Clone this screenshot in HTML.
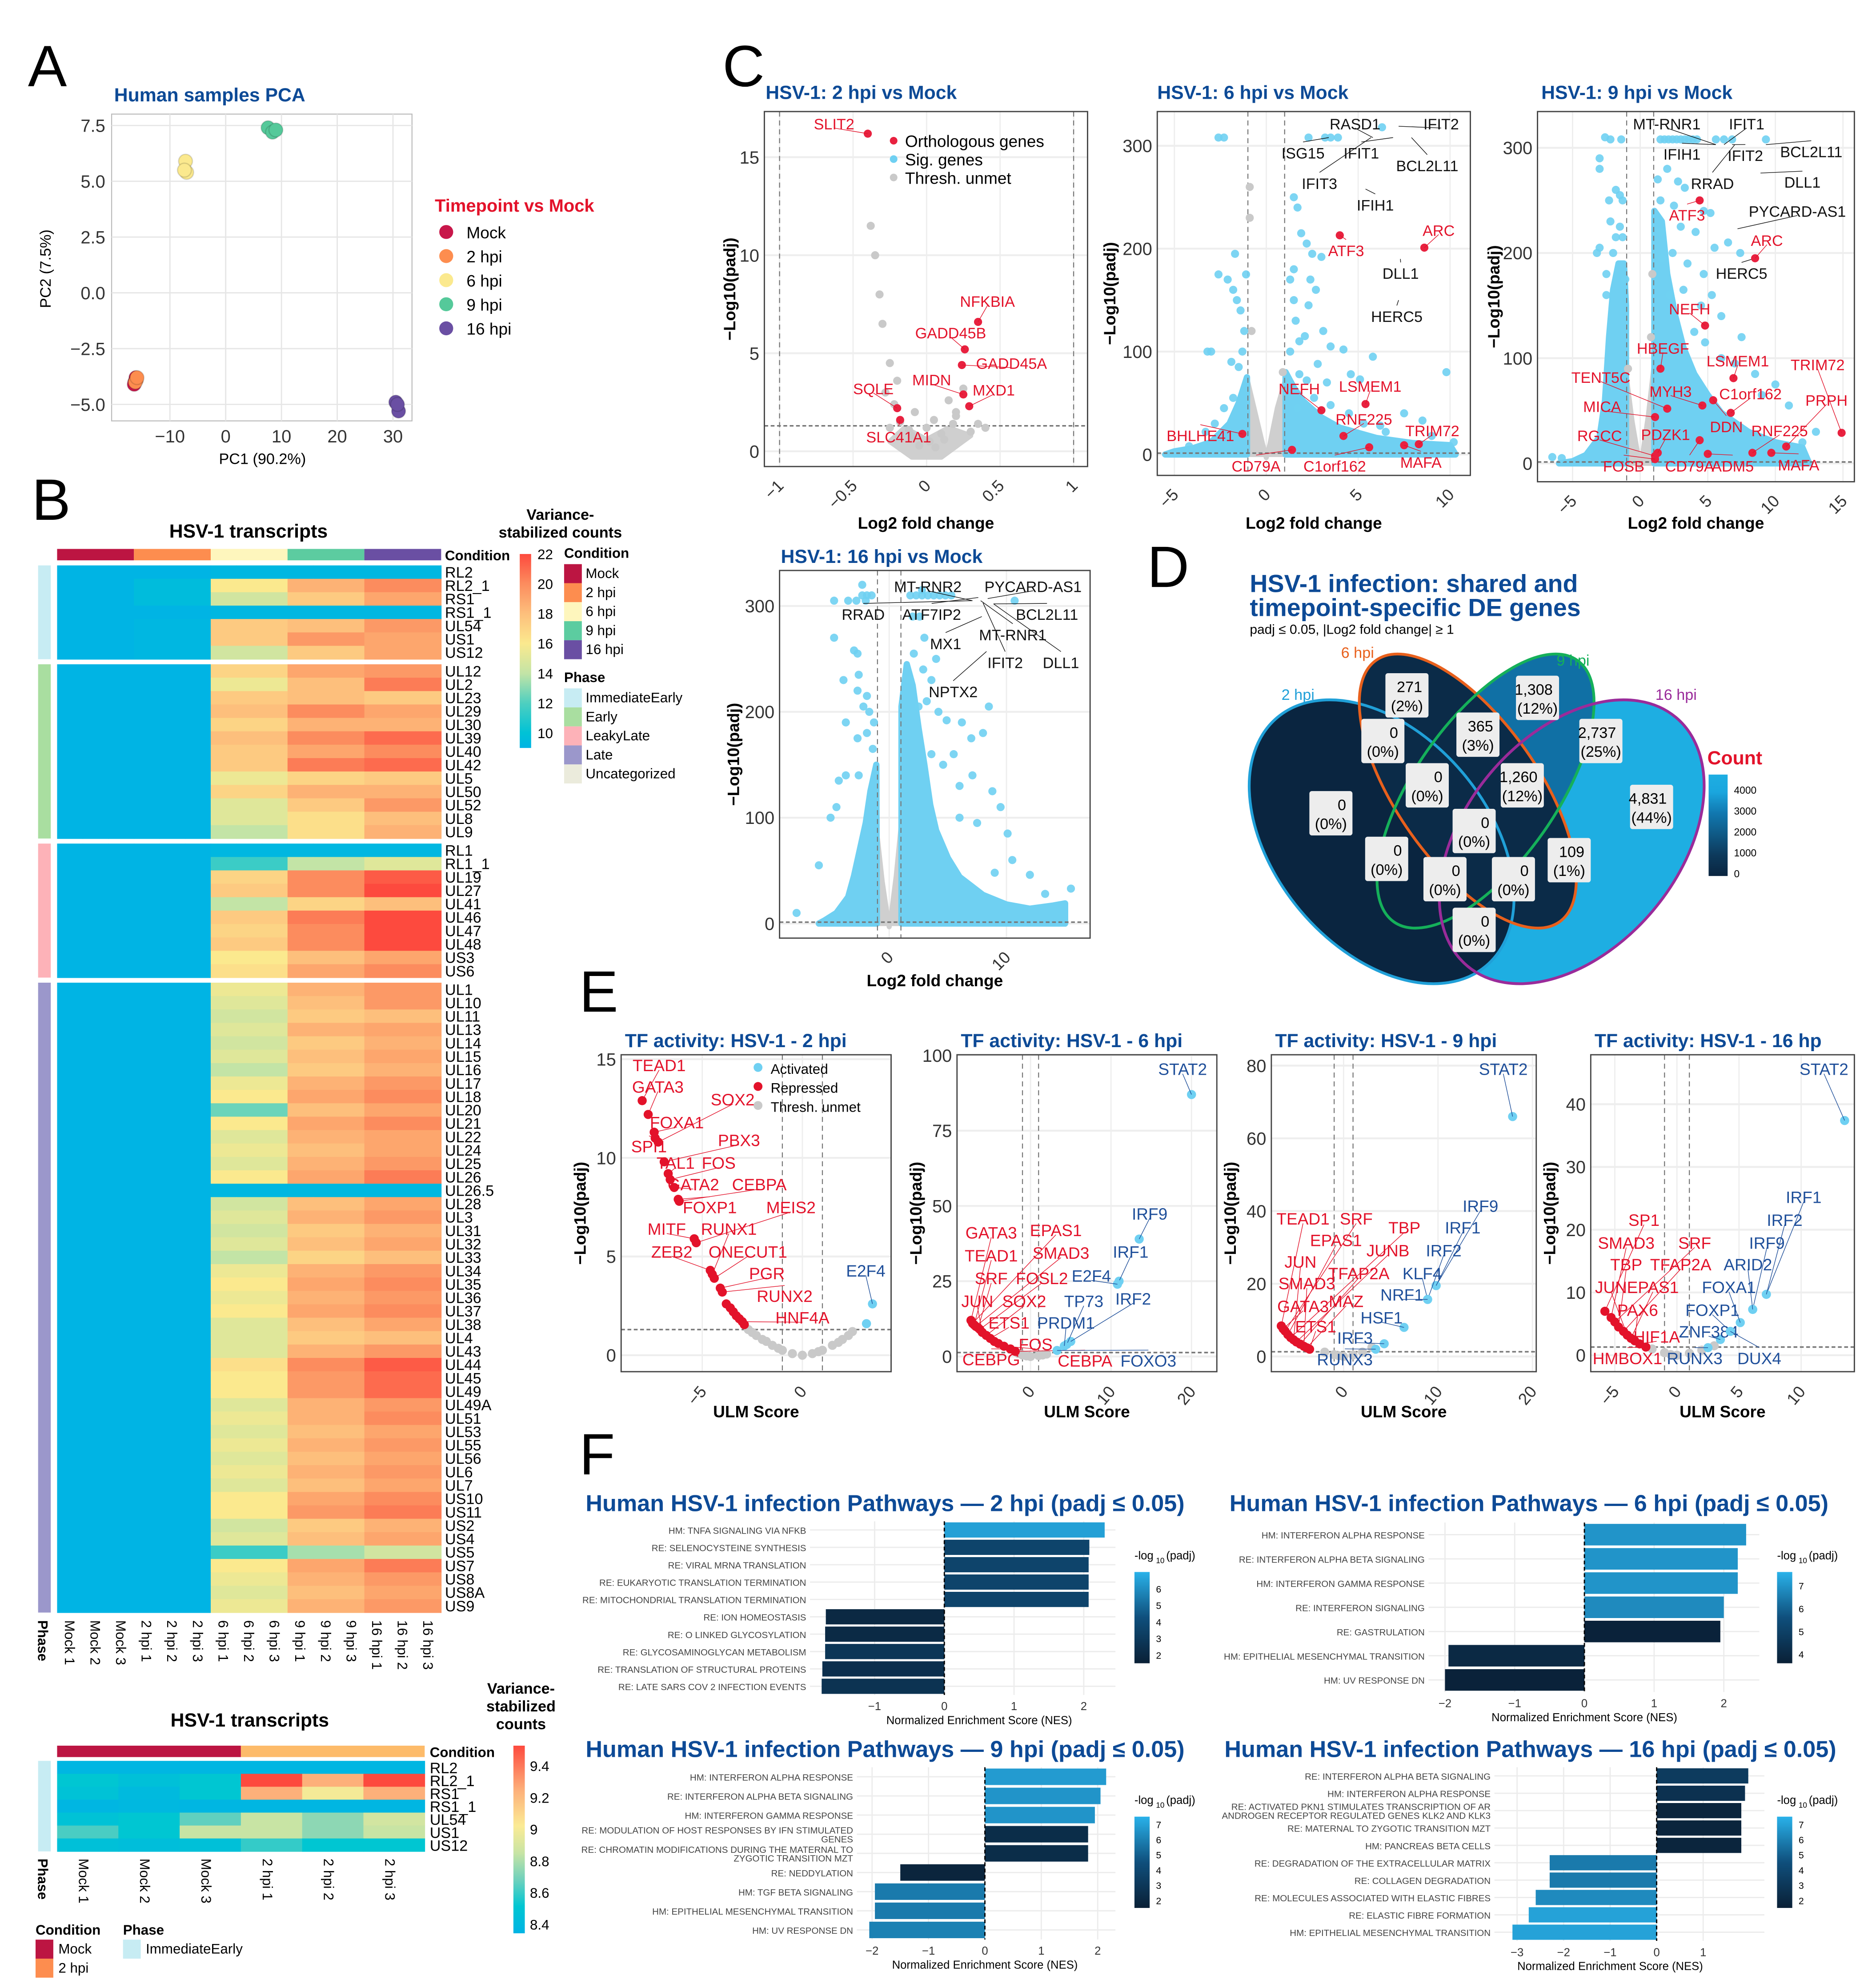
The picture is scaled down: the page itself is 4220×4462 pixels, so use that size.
<!DOCTYPE html>
<html><head><meta charset="utf-8"><style>
html,body{margin:0;padding:0;background:#fff}
svg{display:block;font-family:"Liberation Sans","DejaVu Sans",sans-serif}
</style></head><body>
<svg id="fig" xmlns="http://www.w3.org/2000/svg" width="4220" height="4462" viewBox="0 0 1480 1565"></svg>
<script>
// ---------- DATA ----------
const pcaGroups=['Mock','2 hpi','6 hpi','9 hpi','16 hpi'];
const pcaColors=['#c8174a','#fd8d4f','#fbe98e','#55c99a','#6a4fa3'];
const pcaPC1=[[-16.3,-16.1,-16.4],[-16.0,-16.2,-15.9],[-7.2,-7.0,-7.4],[7.6,8.4,9.0],[30.5,31.0,30.8]];
const pcaPC2=[[-4.0,-3.8,-4.1],[-3.9,-4.0,-3.8],[5.9,5.4,5.5],[7.4,7.2,7.3],[-4.9,-5.3,-5.0]];
const pcaXTicks=[-10,0,10,20,30];
const pcaYTicks=[7.5,5.0,2.5,0.0,-2.5,-5.0];
const hmCols=['Mock 1','Mock 2','Mock 3','2 hpi 1','2 hpi 2','2 hpi 3','6 hpi 1','6 hpi 2','6 hpi 3','9 hpi 1','9 hpi 2','9 hpi 3','16 hpi 1','16 hpi 2','16 hpi 3'];
const phaseNames=['ImmediateEarly','Early','LeakyLate','Late'];
const phaseRows=[
 ['RL2','RL2_1','RS1','RS1_1','UL54','US1','US12'],
 ['UL12','UL2','UL23','UL29','UL30','UL39','UL40','UL42','UL5','UL50','UL52','UL8','UL9'],
 ['RL1','RL1_1','UL19','UL27','UL41','UL46','UL47','UL48','US3','US6'],
 ['UL1','UL10','UL11','UL13','UL14','UL15','UL16','UL17','UL18','UL20','UL21','UL22','UL24','UL25','UL26','UL26.5','UL28','UL3','UL31','UL32','UL33','UL34','UL35','UL36','UL37','UL38','UL4','UL43','UL44','UL45','UL49','UL49A','UL51','UL53','UL55','UL56','UL6','UL7','US10','US11','US2','US4','US5','US7','US8','US8A','US9']];
const phaseVals=[
 [[9,9,9.2,9.2,9.2],[9,9.6,16,18.5,20],[9,9.6,14.5,17.5,19],[9,9,9.2,9.2,9.2],[9,9.2,17.5,18,19.5],[9,9.2,17.5,19.5,19],[9,9.2,14.5,17.5,19]],
 [[9,9,17,19,19.5],[9,9,15.5,18,20.5],[9,9,17.5,18,17.5],[9,9,18,20,19],[9,9,17,18.5,18.5],[9,9,18,20,21],[9,9,17.5,19,20],[9,9,17.5,20.5,21],[9,9,15.5,17,17.5],[9,9,17,18.5,18.5],[9,9,15,17.5,19.5],[9,9,15,16.5,18],[9,9,14,16.5,18.5]],
 [[9,9,9.2,9.2,9.2],[9,9,11.5,14,15],[9,9,17,20,21.5],[9,9,17.5,20,22],[9,9,14,17,18],[9,9,17.5,20.5,22.5],[9,9,17,20,22.5],[9,9,17.5,20,22],[9,9,16,18,19],[9,9,16.5,19,20]],
 [[9,9,15.5,18.5,19.5],[9,9,15,18,19.5],[9,9,14.5,17.5,18],[9,9,15,18.5,19],[9,9,14.5,17.5,18.5],[9,9,15,18,19],[9,9,14,17.5,18.5],[9,9,15.5,18.5,19.5],[9,9,16,19,20],[9,9,12.5,18,19],[9,9,16,19,20],[9,9,15,18.5,19],[9,9,15.5,18,19],[9,9,15,18.5,19.5],[9,9,16,19,20.5],[9,9,9.2,9.3,9.3],[9,9,14.5,18,19],[9,9,15,18.5,19.5],[9,9,14.5,17.5,18.5],[9,9,15,18,19],[9,9,14,17,18],[9,9,15.5,18.5,19.5],[9,9,16,19,20],[9,9,15.5,18.5,19.5],[9,9,16,19,20],[9,9,15,18,19],[9,9,15,17.5,18],[9,9,15,18.5,19.5],[9,9,16.5,20,21.5],[9,9,16,19.5,21],[9,9,16,19.5,21],[9,9,15,18.5,19.5],[9,9,15.5,18.5,20],[9,9,15,18,19],[9,9,15.5,18.5,19.5],[9,9,15,18,19],[9,9,15.5,18.5,19.5],[9,9,15,18,19],[9,9,16,19,20],[9,9,16,19.5,20.5],[9,9,14.5,17.5,18.5],[9,9,15,18,19],[9,9,11.5,13.5,14.5],[9,9,16,19,20.5],[9,9,15.5,18.5,19.5],[9,9,15,18,19],[9,9,15.5,18.5,19.5]]];
const hmTicks=[22,20,18,16,14,12,10];
const hm2Rows=['RL2','RL2_1','RS1','RS1_1','UL54','US1','US12'];
const hm2Cols=['Mock 1','Mock 2','Mock 3','2 hpi 1','2 hpi 2','2 hpi 3'];
const hm2Vals=[[8.42,8.42,8.42,8.42,8.42,8.42],[8.55,8.5,8.55,9.45,9.2,9.45],[8.52,8.45,8.55,9.2,8.98,9.2],[8.42,8.43,8.42,8.42,8.42,8.42],[8.52,8.55,8.68,8.85,8.75,8.88],[8.65,8.55,8.85,8.85,8.75,8.85],[8.5,8.48,8.5,8.62,8.55,8.55]];
const hm2Ticks=[9.4,9.2,9.0,8.8,8.6,8.4];

// Panel C volcano: 2 hpi
const v2Gray=[[-0.05,0.3],[0.02,0.5],[0.06,0.2],[-0.1,0.8],[0.1,0.9],[-0.12,1.1],[0.12,0.6],[-0.18,1.5],[0.18,1.4],[-0.22,2.4],[0.2,2.0],[-0.28,3.0],[0.25,3.2],[-0.3,6.5],[-0.25,4.5],[-0.35,10.0],[-0.38,11.5],[-0.2,3.6],[0,1.2],[0.05,1.6],[-0.08,2.0],[0.15,2.6],[0.3,1.0],[0.35,1.4],[-0.25,1.2],[-0.32,8],[0.2,1.8],[0.4,1.2]];
const v2EnvGray=[[[-0.25,0.5],[-0.15,1.2],[0,0.6],[0.15,1.2],[0.3,0.8],[0.1,-0.3],[-0.1,-0.3]]];
const v2EnvBlue=[];
const v2Blue=[];
const v2Red=[[-0.4,16.2,'SLIT2'],[0.35,6.6,'NFKBIA'],[0.26,5.2,'GADD45B'],[0.24,4.4,'GADD45A'],[0.25,2.9,'MIDN'],[0.29,2.3,'MXD1'],[-0.2,2.2,'SQLE'],[-0.18,1.6,'SLC41A1']];
const v2Black=[];
const v2XTicks=[-1.0,-0.5,0.0,0.5,1.0];
const v2YTicks=[0,5,10,15];
// 6 hpi
const v6EnvBlue=[[[-5.5,0],[-5,3],[-4,6],[-3,12],[-2,30],[-1.5,50],[-1.05,75],[-1.05,0]],[[1.05,0],[1.05,80],[1.5,65],[2,52],[3,36],[4,26],[6,16],[8,11],[10,9],[10.3,0]]];
const v6EnvGray=[[[-1,0],[-1,70],[-0.6,40],[-0.2,10],[0,-3],[0.2,10],[0.6,45],[1,70],[1,0]]];
const v6Gray=[[-0.9,260],[-0.9,230],[-0.8,120],[0.9,80]];
const v6Blue=[[-2.3,308],[-2.6,308],[-1.7,195],[-2.6,175],[-2.1,170],[-1.8,160],[-1.6,150],[-1.4,140],[-1.2,120],[-1.3,100],[-3,100],[-3.2,100],[-1.9,90],[-1.5,85],[-1.1,175],[2.3,308],[3.2,308],[3.5,308],[3.9,308],[6.3,318],[1.5,250],[1.7,240],[1.9,215],[2.2,205],[2.5,195],[3.0,192],[1.5,180],[2.4,170],[2.7,160],[1.3,170],[1.5,150],[2.3,145],[3.1,120],[3.5,105],[4.2,102],[5.8,95],[1.3,100],[1.8,110],[2.1,115],[1.6,130],[2.8,88],[3.3,70],[4.6,78],[5.1,73],[2.2,72],[1.8,78],[9.8,80],[7.5,40],[8.5,33],[6.2,28],[9,18],[10.2,12],[1.7,45],[2.6,55],[3.5,48],[4.5,40],[5.3,30],[6.5,22],[-3.3,22],[-4.2,8],[-2.8,30],[-2.3,45],[-1.8,55]];
const v6Red=[[8.6,201,'ARC'],[4.0,213,'ATF3'],[3.0,43,'NEFH'],[5.4,49,'LSMEM1'],[4.2,18,'RNF225'],[8.3,10,'TRIM72'],[-1.3,20,'BHLHE41'],[1.4,4.5,'CD79A'],[5.6,7,'C1orf162'],[7.5,9,'MAFA']];
const v6Black=[[5.8,308,'RASD1'],[7.2,319,'IFIT2'],[3.4,308,'ISG15'],[6.9,308,'IFIT1'],[7.9,308,'BCL2L11'],[5.7,308,'IFIT3'],[5.4,258,'IFIH1'],[7.3,190,'DLL1'],[7.2,150,'HERC5']];
const v6XTicks=[-5,0,5,10];
const v6YTicks=[0,100,200,300];
// 9 hpi
const v9EnvBlue=[[[-6,0],[-5,2],[-4,8],[-3,25],[-2.6,60],[-2.3,120],[-2,165],[-1.6,190],[-1.2,190],[-1.05,150],[-1.05,0]],[[1.05,0],[1.05,240],[1.6,230],[2,180],[2.6,140],[3.2,110],[4,85],[5,65],[6,48],[8,30],[10,20],[12,15],[12.5,0]]];
const v9EnvGray=[[[-1,0],[-1,80],[-0.6,40],[-0.2,10],[0,-3],[0.2,10],[0.6,45],[1,90],[1,0]]];
const v9Gray=[[0.9,180],[0.8,120],[-0.9,90]];
const v9Blue=[[-6.5,6],[-5.8,5],[-2.6,310],[-2.2,308],[-1.4,308],[-3,290],[-3,280],[-2.3,250],[-1.8,260],[-1.5,255],[-1.3,250],[-2.2,230],[-3.2,200],[-3.0,205],[-1.8,215],[-1.5,225],[-2.5,180],[-2.0,200],[-1.3,215],[-1.1,175],[-2.5,160],[1.5,308],[1.8,308],[2.1,308],[2.4,308],[2.7,308],[3,308],[3.3,308],[3.6,308],[3.9,308],[4.2,308],[5.6,308],[6.2,308],[6.8,308],[9.3,308],[1.3,270],[2,280],[2.8,268],[3.3,262],[1.5,250],[2.5,245],[4.7,240],[5.2,238],[1.5,220],[3,225],[4.1,220],[5.5,205],[6.5,210],[7.4,200],[1.6,195],[2.4,200],[3.5,190],[4.7,180],[2.2,160],[3.2,165],[4.5,150],[5.3,160],[6,140],[7.5,120],[4,125],[4.8,115],[6,100],[7,95],[8.5,85],[10,75],[11,55],[13,30],[12,20],[9,65]];
const v9Red=[[4.4,250,'ATF3'],[8.5,195,'ARC'],[4.8,131,'NEFH'],[1.5,90,'HBEGF'],[6.9,81,'LSMEM1'],[14.9,29,'TRIM72'],[2,52,'TENT5C'],[4.6,55,'MYH3'],[6.7,48,'C1orf162'],[10.8,16,'PRPH'],[1.1,44,'MICA'],[5.4,60,'DDN'],[8.3,10,'RNF225'],[1.1,7,'RGCC'],[1.3,10,'PDZK1'],[1.1,4,'FOSB'],[4.4,22,'CD79A'],[5,9,'ADM5'],[9.7,10,'MAFA']];
const v9Black=[[5.6,303,'MT-RNR1'],[6.2,303,'IFIT1'],[5.6,303,'IFIH1'],[6.8,303,'IFIT2'],[9.3,303,'BCL2L11'],[8.9,276,'DLL1'],[7,303,'RRAD'],[7.2,223,'PYCARD-AS1'],[8.5,195,'HERC5']];
const v9XTicks=[-5,0,5,10,15];
const v9YTicks=[0,100,200,300];
// 16 hpi
const v16EnvBlue=[[[-6,0],[-5.5,3],[-4.5,10],[-3.5,25],[-3,45],[-2.5,70],[-2,95],[-1.6,125],[-1.1,150],[-1.05,0]],[[1.05,0],[1.05,205],[1.5,245],[2,225],[2.5,185],[3,150],[3.5,112],[4,88],[5,62],[6,44],[8,27],[10,18],[12,14],[14,17],[15,19],[15,0]]];
const v16EnvGray=[[[-1,0],[-1,80],[-0.6,40],[-0.2,10],[0,-3],[0.2,10],[0.6,45],[1,90],[1,0]]];
const v16Gray=[];
const v16Blue=[[-2.3,310],[-2.8,305],[-3.5,305],[-4.7,305],[-2,305],[-1.9,310],[-1.5,310],[-2.3,320],[-4.7,270],[-2.7,255],[-3,258],[-2.6,235],[-3.9,230],[-2.7,220],[-1.9,215],[-2.2,205],[-1.7,200],[-3.7,190],[-1.3,190],[-2.7,175],[-1.9,180],[-1.4,165],[-4.3,135],[-3.7,140],[-2.6,140],[-5,100],[-4.5,110],[-6,55],[-7.9,10],[1.8,310],[2.3,310],[2.8,310],[3.3,310],[3.8,310],[4.3,310],[4.8,310],[5.3,310],[2.8,315],[10.7,305],[2,290],[2.6,290],[3,270],[2.1,255],[2.9,240],[4,250],[3.6,230],[1.8,230],[2.5,205],[3.2,210],[4.2,200],[4.9,192],[6.2,190],[8.5,205],[8,180],[7,175],[5.5,160],[4.6,150],[3.6,160],[6,130],[7.1,140],[8.8,125],[9.5,110],[6,100],[7.5,95],[10.1,85],[10.5,60],[12,46],[15.5,33],[13.3,28],[9,48]];
const v16Red=[];
const v16Black=[[7.1,305,'RRAD'],[7.1,305,'MT-RNR2'],[7.6,308,'ATF7IP2'],[8.4,307,'PYCARD-AS1'],[8.9,302,'BCL2L11'],[7.8,305,'MT-RNR1'],[7.9,290,'MX1'],[8.0,303,'IFIT2'],[8.9,302,'DLL1'],[8.3,257,'NPTX2']];
const v16XTicks=[0,10];
const v16YTicks=[0,100,200,300];
// Venn
const vennSets=['2 hpi','6 hpi','9 hpi','16 hpi'];
const vennCounts=['271','1,308','365','2,737','0','0','1,260','4,831','0','0','0','109','0','0','0'];
const vennPct=['2%','12%','3%','25%','0%','0%','12%','44%','0%','0%','0%','1%','0%','0%','0%'];
const vennTicks=[4000,3000,2000,1000,0];
// Panel E
const e2Gray=[[-2.7,1.3],[-2.3,1.0],[-2,0.8],[-1.5,0.5],[-1,0.25],[-0.5,0.08],[0,0],[0.5,0.08],[1,0.25],[1.5,0.5],[2,0.8],[2.5,1.2],[-2.5,1.15],[-1.2,0.35],[0.8,0.18],[1.8,0.65],[-1.8,0.7],[2.3,1.0]];
const e2Red=[[-8,12.9,'TEAD1'],[-7.7,12.2,'GATA3'],[-7.4,11.3,'FOXA1'],[-7.35,11.0,'SPI1'],[-7.2,10.8,'SOX2'],[-6.9,9.8,'PBX3'],[-6.7,9.2,'TAL1'],[-6.6,8.9,'FOS'],[-6.4,8.5,'GATA2'],[-6.2,7.9,'FOXP1'],[-6.15,7.8,'CEBPA'],[-5.4,5.9,'MITF'],[-5.3,5.7,'MEIS2'],[-4.6,4.3,'ZEB2'],[-4.5,4.1,'RUNX1'],[-4.4,3.9,'ONECUT1'],[-4.1,3.4,'PGR'],[-4.0,3.2,'RUNX2'],[-3.0,1.7,'HNF4A'],[-3.8,2.6,''],[-3.6,2.4,''],[-3.45,2.2,''],[-3.3,2.0,''],[-3.15,1.85,''],[-2.9,1.55,'']];
const e2Blue=[[3.5,2.6,'E2F4'],[3.2,1.6,'']];
const e6Gray=[[-1.5,1],[-1,0.5],[0,0],[1,0.3],[2,0.8],[-0.5,0.2],[1.5,0.5]];
const e6Red=[[-7.4,12,'GATA3'],[-7.2,11,'EPAS1'],[-7,10.5,'TEAD1'],[-6.8,10,'SMAD3'],[-6.5,9.5,'SRF'],[-6.3,9,'FOSL2'],[-6,8,'JUN'],[-5.5,7,'SOX2'],[-5,6,'ETS1'],[-3.3,3.4,'FOS'],[-2.5,2.5,'CEBPG'],[-1.9,1.7,'CEBPA'],[-4.5,5,''],[-4,4.3,'']];
const e6Blue=[[20,87,'STAT2'],[13.5,39,'IRF9'],[11,25,'IRF1'],[10.8,24,'E2F4'],[5,5,'IRF2'],[4.5,4,'TP73'],[4.2,3.5,'PRDM1'],[3.3,2,'FOXO3']];
const e9Gray=[[-2,1.2],[-1,0.5],[0,0],[1,0.4],[2,1.2],[3,2.5],[-0.5,0.2]];
const e9Red=[[-6.6,8.4,'TEAD1'],[-6.2,7,'SRF'],[-5.9,6,'EPAS1'],[-5.6,5.2,'TBP'],[-5.3,4.6,'JUN'],[-5,4,'JUNB'],[-4.6,3.4,'TFAP2A'],[-4.2,2.8,'SMAD3'],[-3.9,2.4,'MAZ'],[-6.4,7.6,'GATA3'],[-3.6,2,'ETS1']];
const e9Blue=[[17.9,66,'STAT2'],[9.8,19.5,'IRF9'],[9.8,19.5,'IRF1'],[8.9,15.7,'IRF2'],[8.9,15.7,'KLF4'],[8.9,15.7,'NRF1'],[6.4,8,'HSF1'],[4.3,3.5,'IRF3'],[3.4,2,'RUNX3']];
const e16Gray=[[-2,1],[-1,0.4],[0,0],[1,0.3],[2,0.8],[3,1.5],[-0.5,0.1]];
const e16Red=[[-5.8,7,'SP1'],[-5.3,6,'SMAD3'],[-5,5.3,'SRF'],[-4.7,4.5,'TBP'],[-4.3,3.8,'TFAP2A'],[-4,3.2,'JUN'],[-3.7,2.7,'EPAS1'],[-3.4,2.3,'PAX6'],[-3,1.8,'HIF1A'],[-2.5,1.3,'HMBOX1']];
const e16Blue=[[13.5,37.4,'STAT2'],[7.2,9.7,'IRF1'],[7.2,9.7,'IRF2'],[6.1,7.3,'IRF9'],[6.1,7.3,'ARID2'],[5.1,5.2,'FOXA1'],[4.3,3.8,'FOXP1'],[3.5,2.5,'ZNF384'],[2.5,1.2,'RUNX3'],[4.3,3.8,'DUX4']];
// Panel F
const f2Labels=['HM: TNFA SIGNALING VIA NFKB','RE: SELENOCYSTEINE SYNTHESIS','RE: VIRAL MRNA TRANSLATION','RE: EUKARYOTIC TRANSLATION TERMINATION','RE: MITOCHONDRIAL TRANSLATION TERMINATION','RE: ION HOMEOSTASIS','RE: O LINKED GLYCOSYLATION','RE: GLYCOSAMINOGLYCAN METABOLISM','RE: TRANSLATION OF STRUCTURAL PROTEINS','RE: LATE SARS COV 2 INFECTION EVENTS'];
const f2NES=[2.3,2.08,2.07,2.07,2.07,-1.7,-1.71,-1.71,-1.75,-1.76];
const f2LP=[6.5,3.6,3.6,3.6,3.6,2.0,2.1,2.8,2.4,2.6];
const f6Labels=['HM: INTERFERON ALPHA RESPONSE','RE: INTERFERON ALPHA BETA SIGNALING','HM: INTERFERON GAMMA RESPONSE','RE: INTERFERON SIGNALING','RE: GASTRULATION','HM: EPITHELIAL MESENCHYMAL TRANSITION','HM: UV RESPONSE DN'];
const f6NES=[2.32,2.2,2.2,2.0,1.95,-1.95,-2.0];
const f6LP=[7.0,7.0,7.0,6.8,3.7,4.0,3.7];
const f9Labels=['HM: INTERFERON ALPHA RESPONSE','RE: INTERFERON ALPHA BETA SIGNALING','HM: INTERFERON GAMMA RESPONSE','RE: MODULATION OF HOST RESPONSES BY IFN STIMULATED|GENES','RE: CHROMATIN MODIFICATIONS DURING THE MATERNAL TO|ZYGOTIC TRANSITION MZT','RE: NEDDYLATION','HM: TGF BETA SIGNALING','HM: EPITHELIAL MESENCHYMAL TRANSITION','HM: UV RESPONSE DN'];
const f9NES=[2.15,2.05,1.95,1.83,1.83,-1.5,-1.95,-1.95,-2.05];
const f9LP=[6.8,6.6,6.6,2.3,2.3,1.8,5.8,5.8,6.0];
const f16Labels=['RE: INTERFERON ALPHA BETA SIGNALING','HM: INTERFERON ALPHA RESPONSE','RE: ACTIVATED PKN1 STIMULATES TRANSCRIPTION OF AR|ANDROGEN RECEPTOR REGULATED GENES KLK2 AND KLK3','RE: MATERNAL TO ZYGOTIC TRANSITION MZT','HM: PANCREAS BETA CELLS','RE: DEGRADATION OF THE EXTRACELLULAR MATRIX','RE: COLLAGEN DEGRADATION','RE: MOLECULES ASSOCIATED WITH ELASTIC FIBRES','RE: ELASTIC FIBRE FORMATION','HM: EPITHELIAL MESENCHYMAL TRANSITION'];
const f16NES=[1.97,1.9,1.82,1.82,1.82,-2.3,-2.3,-2.6,-2.75,-3.1];
const f16LP=[3.2,2.6,1.8,1.8,1.8,5.8,5.8,6.3,7.0,7.0];

// ---------- HELPERS ----------
const NS='http://www.w3.org/2000/svg';
const svg=document.getElementById('fig');
function mk(tag,attrs,name,parent){
 const e=document.createElementNS(NS,tag);
 for(const k in attrs) e.setAttribute(k,attrs[k]);
 
 
 (parent||svg).appendChild(e);
 return e;
}
function T(x,y,s,o,name,parent){
 o=o||{};
 const a={x:x,y:y,'font-size':o.size||12,fill:o.fill||'#000'};
 if(o.weight)a['font-weight']=o.weight;
 if(o.anchor)a['text-anchor']=o.anchor;
 if(o.rot!==undefined)a.transform='rotate('+o.rot+' '+x+' '+y+')';
 const e=mk('text',a,name,parent);
 e.textContent=s;
 return e;
}
function lin(d0,d1,p0,p1){return v=>p0+(v-d0)*(p1-p0)/(d1-d0);}
function hex(h){return [1,3,5].map(i=>parseInt(h.substr(i,2),16));}
function lerpColor(stops,v){
 if(v<=stops[0][0])return stops[0][1];
 for(let i=1;i<stops.length;i++){
  if(v<=stops[i][0]){
   const t=(v-stops[i-1][0])/(stops[i][0]-stops[i-1][0]);
   const a=hex(stops[i-1][1]),b=hex(stops[i][1]);
   return 'rgb('+a.map((c,j)=>Math.round(c+(b[j]-c)*t)).join(',')+')';
  }
 }
 return stops[stops.length-1][1];
}
const BLUE='#0d4a96', RED='#e3122a', CY='#6fd0f2';

[['A',22,68],['B',25,410],['C',570,68],['D',905,463],['E',457,798],['F',457,1163]].forEach(p=>{
 T(p[1],p[2],p[0],{size:46},'panel-label-'+p[0].toLowerCase());
});

// ---------- PANEL A ----------
(function(){
 const g=mk('g',{},'pca-chart');
 const x=lin(0,10,178,222), y=lin(0,2.5,231,187);
 mk('rect',{x:88,y:90,width:237,height:242,fill:'#fff',stroke:'#bbb','stroke-width':0.8},'pca-plot-area',g);
 pcaXTicks.forEach(t=>{mk('line',{x1:x(t),x2:x(t),y1:90,y2:332,stroke:'#e6e6e6'},'pca-grid-x',g);
  T(x(t),349,String(t).replace('-','−'),{size:14,anchor:'middle',fill:'#333'},'pca-x-tick',g);});
 pcaYTicks.forEach(t=>{mk('line',{x1:88,x2:325,y1:y(t),y2:y(t),stroke:'#e6e6e6'},'pca-grid-y',g);
  T(83,y(t)+5,t.toFixed(1).replace('-','−'),{size:14,anchor:'end',fill:'#333'},'pca-y-tick',g);});
 pcaGroups.forEach((gname,i)=>{
  pcaPC1[i].forEach((v,j)=>mk('circle',{cx:x(v),cy:y(pcaPC2[i][j]),r:5.5,fill:pcaColors[i],stroke:'#0002'},'pca-point-'+gname.replace(' ','-'),g));
  mk('circle',{cx:352,cy:183+i*19,r:5.5,fill:pcaColors[i]},'pca-legend-key',g);
  T(368,188+i*19,gname,{size:13},'pca-legend-label',g);
 });
 T(90,80,'Human samples PCA',{size:15,weight:'bold',fill:BLUE},'pca-title',g);
 T(343,167,'Timepoint vs Mock',{size:14,weight:'bold',fill:RED},'pca-legend-title',g);
 T(207,366,'PC1 (90.2%)',{size:12,anchor:'middle'},'pca-x-title',g);
 T(40,212,'PC2 (7.5%)',{size:12,anchor:'middle',rot:-90},'pca-y-title',g);
})();

// ---------- PANEL B ----------
const hmStops=[[9,'#00b4e4'],[10,'#00c2d6'],[12,'#4ecfc0'],[14,'#c3e4a6'],[16,'#fbe98e'],[18,'#fdbf7c'],[20,'#fc8c5e'],[22,'#fd4a3e']];
const condCols=['#bc1542','#fd8d4f','#fef6bd','#5ccca0','#6a4fa3'];
const phaseCols=['#c7ecf3','#a9dea0','#fdb2b8','#9b97cb'];
(function(){
 const g=mk('g',{},'heatmap-main');
 const x0=45,x1=348,cw=(x1-x0)/hmCols.length;
 const nRows=phaseRows.reduce((a,r)=>a+r.length,0);
 const gap=4, top=446, bottom=1272;
 const rh=(bottom-top-gap*3)/nRows;
 T(196,424,'HSV-1 transcripts',{size:15,weight:'bold',anchor:'middle'},'heatmap-title',g);
 for(let c=0;c<5;c++) mk('rect',{x:x0+c*cw*3,y:433,width:cw*3,height:9,fill:condCols[c]},'condition-bar',g);
 T(351,442,'Condition',{size:11,weight:'bold'},'condition-bar-label',g);
 let yy=top;
 phaseRows.forEach((rows,p)=>{
  mk('rect',{x:30,y:yy,width:10,height:rows.length*rh,fill:phaseCols[p]},'phase-bar-'+phaseNames[p],g);
  rows.forEach((rn,r)=>{
   for(let c=0;c<hmCols.length;c++){
    const v=phaseVals[p][r][Math.floor(c/3)];
    mk('rect',{x:x0+c*cw,y:yy+r*rh,width:cw+0.3,height:rh+0.3,fill:lerpColor(hmStops,v)},'heatmap-cell',g);
   }
   T(351,yy+r*rh+rh-1,rn,{size:12},'row-label',g);
  });
  yy+=rows.length*rh+gap;
 });
 hmCols.forEach((cn,c)=>T(x0+c*cw+cw/2-4,1278,cn,{size:11,rot:90},'column-label',g));
 T(30,1278,'Phase',{size:11,weight:'bold',rot:90},'phase-axis-label',g);
 T(442,410,'Variance-',{size:12,weight:'bold',anchor:'middle'},'legend-title',g);
 T(442,424,'stabilized counts',{size:12,weight:'bold',anchor:'middle'},'legend-title',g);
 const cb=mk('defs',{},'defs',g);
 const lg=mk('linearGradient',{id:'hmg',x1:0,y1:1,x2:0,y2:0},'gradient',cb);
 hmStops.forEach(s=>mk('stop',{offset:((s[0]-9)/13),'stop-color':s[1]},'grad-stop',lg));
 mk('rect',{x:410,y:437,width:9,height:153,fill:'url(#hmg)'},'colorbar',g);
 const cy=lin(9,22,590,437);
 hmTicks.forEach(t=>T(424,cy(t)+4,String(t),{size:11},'colorbar-tick',g));
 T(445,440,'Condition',{size:11,weight:'bold'},'condition-legend-title',g);
 pcaGroups.forEach((n,i)=>{mk('rect',{x:445,y:445+i*15,width:14,height:15,fill:condCols[i]},'condition-legend-key',g);
  T(462,456+i*15,n,{size:11},'condition-legend-label',g);});
 T(445,538,'Phase',{size:11,weight:'bold'},'phase-legend-title',g);
 phaseNames.concat(['Uncategorized']).forEach((n,i)=>{mk('rect',{x:445,y:543+i*15,width:14,height:15,fill:phaseCols[i]||'#ebebdc'},'phase-legend-key',g);
  T(462,554+i*15,n,{size:11},'phase-legend-label',g);});
})();
(function(){
 const g=mk('g',{},'heatmap-2hpi');
 const x0=45,x1=335,cw=(x1-x0)/hm2Cols.length,top=1389,rh=10.2;
 const st=[[8.4,'#00b4e4'],[8.55,'#00c6d2'],[8.7,'#6fd1bc'],[8.85,'#c8e4a4'],[9.0,'#fbeb95'],[9.2,'#fdb07a'],[9.45,'#fd4a3e']];
 T(197,1362,'HSV-1 transcripts',{size:15,weight:'bold',anchor:'middle'},'heatmap2-title',g);
 mk('rect',{x:x0,y:1377,width:cw*3,height:9,fill:condCols[0]},'condition-bar',g);
 mk('rect',{x:x0+cw*3,y:1377,width:cw*3,height:9,fill:'#fdbb6a'},'condition-bar',g);
 T(339,1386,'Condition',{size:11,weight:'bold'},'condition-bar-label',g);
 mk('rect',{x:30,y:top,width:10,height:rh*7,fill:phaseCols[0]},'phase-bar',g);
 hm2Rows.forEach((rn,r)=>{hm2Cols.forEach((cn,c)=>mk('rect',{x:x0+c*cw,y:top+r*rh,width:cw+0.3,height:rh+0.3,fill:lerpColor(st,hm2Vals[r][c])},'heatmap2-cell',g));
  T(339,top+r*rh+rh-0.5,rn,{size:12},'row-label',g);});
 hm2Cols.forEach((cn,c)=>T(x0+c*cw+cw/2-7,1466,cn,{size:11,rot:90},'column-label',g));
 T(30,1466,'Phase',{size:11,weight:'bold',rot:90},'phase-axis-label',g);
 T(411,1336,'Variance-',{size:12,weight:'bold',anchor:'middle'},'legend-title',g);
 T(411,1350,'stabilized',{size:12,weight:'bold',anchor:'middle'},'legend-title',g);
 T(411,1364,'counts',{size:12,weight:'bold',anchor:'middle'},'legend-title',g);
 const d=mk('defs',{},'defs',g);
 const lg=mk('linearGradient',{id:'hmg2',x1:0,y1:1,x2:0,y2:0},'gradient',d);
 st.forEach(s=>mk('stop',{offset:(s[0]-8.4)/1.05,'stop-color':s[1]},'grad-stop',lg));
 mk('rect',{x:405,y:1377,width:9,height:148,fill:'url(#hmg2)'},'colorbar',g);
 const cy=lin(8.4,9.4,1518,1393);
 hm2Ticks.forEach(t=>T(418,cy(t)+4,t===9?'9':t.toFixed(1),{size:11},'colorbar-tick',g));
 T(28,1526,'Condition',{size:11,weight:'bold'},'condition-legend-title',g);
 mk('rect',{x:28,y:1530,width:14,height:15,fill:condCols[0]},'legend-key',g);T(46,1541,'Mock',{size:11},'legend-label',g);
 mk('rect',{x:28,y:1545,width:14,height:15,fill:condCols[1]},'legend-key',g);T(46,1556,'2 hpi',{size:11},'legend-label',g);
 T(97,1526,'Phase',{size:11,weight:'bold'},'phase-legend-title',g);
 mk('rect',{x:97,y:1530,width:14,height:15,fill:phaseCols[0]},'legend-key',g);T(115,1541,'ImmediateEarly',{size:11},'legend-label',g);
})();

// ---------- VOLCANO ----------
function volcano(cfg){
 const g=mk('g',{},cfg.name);
 const x=lin(cfg.xd[0],cfg.xd[1],cfg.xp[0],cfg.xp[1]), y=lin(cfg.yd[0],cfg.yd[1],cfg.yp[0],cfg.yp[1]);
 const L=cfg.box[0],R=cfg.box[1],Tp=cfg.box[2],B=cfg.box[3];
 const cid='clip-'+cfg.name;
 const d=mk('defs',{},'defs',g);
 const cp=mk('clipPath',{id:cid},'clip',d);
 mk('rect',{x:L,y:Tp,width:R-L,height:B-Tp},'clip-rect',cp);
 mk('rect',{x:L,y:Tp,width:R-L,height:B-Tp,fill:'#fff'},'plot-area',g);
 cfg.xt.forEach(t=>{mk('line',{x1:x(t),x2:x(t),y1:Tp,y2:B,stroke:'#eee'},'grid-x',g);
  T(x(t)+4,B+16,String(t).replace('-','−'),{size:13,anchor:'end',fill:'#333',rot:cfg.rot||0},'x-tick',g);});
 cfg.yt.forEach(t=>{mk('line',{x1:L,x2:R,y1:y(t),y2:y(t),stroke:'#eee','stroke-width':1.5},'grid-y',g);
  T(L-4,y(t)+5,String(t),{size:14,anchor:'end',fill:'#333'},'y-tick',g);});
 const pg=mk('g',{'clip-path':'url(#'+cid+')'},'marks',g);
 (cfg.envGray||[]).forEach(poly=>mk('polygon',{points:poly.map(p=>x(p[0])+','+y(p[1])).join(' '),fill:'#cfcfcf','stroke':'#cfcfcf','stroke-width':4,'stroke-linejoin':'round'},'thresh-unmet-cloud',pg));
 (cfg.envBlue||[]).forEach(poly=>mk('polygon',{points:poly.map(p=>x(p[0])+','+y(p[1])).join(' '),fill:CY,stroke:CY,'stroke-width':5,'stroke-linejoin':'round'},'sig-gene-cloud',pg));
 cfg.vl.forEach(v=>mk('line',{x1:x(v),x2:x(v),y1:Tp,y2:B,stroke:'#777','stroke-dasharray':'4,3','stroke-width':0.8},'threshold-fc',pg));
 mk('line',{x1:L,x2:R,y1:y(cfg.hl),y2:y(cfg.hl),stroke:'#777','stroke-dasharray':'3,2','stroke-width':1.2},'threshold-padj',pg);
 cfg.gray.forEach(p=>mk('circle',{cx:x(p[0]),cy:y(p[1]),r:cfg.r||3.2,fill:'#c9c9c9'},'point-thresh-unmet',pg));
 cfg.blue.forEach(p=>mk('circle',{cx:x(p[0]),cy:y(p[1]),r:cfg.r||3.2,fill:CY,opacity:0.9},'point-sig',pg));
 const lab=(arr,col,nm,ptcol)=>arr.forEach(p=>{
  const px=x(p[0]),py=y(p[1]);
  if(ptcol)mk('circle',{cx:px,cy:py,r:cfg.r||3.2,fill:ptcol},nm+'-point',g);
  if(p[2]&&cfg.pos&&cfg.pos[p[2]]){const q=cfg.pos[p[2]];
   mk('line',{x1:px,y1:py,x2:q[0],y2:q[1]+(q[1]<py?3:-9),stroke:col,'stroke-width':0.5},nm+'-leader',g);
   T(q[0],q[1]+4,p[2],{size:cfg.ls||12,fill:col,anchor:'middle'},nm+'-label',g);}
 });
 lab(cfg.black,'#111','gene',null);
 lab(cfg.red,cfg.redcol||RED,'highlight',cfg.redpt||'#e8213f');
 if(cfg.bluelab)lab(cfg.bluelab,'#1f4f9a','activated',CY);
 mk('rect',{x:L,y:Tp,width:R-L,height:B-Tp,fill:'none',stroke:'#444','stroke-width':1},'plot-border',g);
 T(cfg.title[1],cfg.title[2],cfg.title[0],{size:15,weight:'bold',fill:BLUE},'plot-title',g);
 T((L+R)/2,cfg.xlabY,cfg.xlab,{size:13,weight:'bold',anchor:'middle'},'x-axis-title',g);
 T(cfg.ylabX,(Tp+B)/2,'−Log10(padj)',{size:13,weight:'bold',anchor:'middle',rot:-90},'y-axis-title',g);
 return g;
}
volcano({name:'volcano-2hpi',xd:[0,0.5],xp:[731,789],yd:[0,15],yp:[356,124],box:[603,858,88,368],xt:v2XTicks,yt:v2YTicks,rot:-45,vl:[-1,1],hl:1.3,
 gray:v2Gray,blue:v2Blue,envGray:v2EnvGray,envBlue:v2EnvBlue,red:v2Red,black:v2Black,title:['HSV-1: 2 hpi vs Mock',604,78],xlab:'Log2 fold change',xlabY:417,ylabX:580,
 pos:{SLIT2:[658,98],NFKBIA:[779,238],GADD45B:[750,263],GADD45A:[798,287],MIDN:[735,300],MXD1:[784,308],SQLE:[689,307],SLC41A1:[709,345]}});
(function(){const g=mk('g',{},'volcano-legend');
 [['Orthologous genes','#e8213f'],['Sig. genes',CY],['Thresh. unmet','#c9c9c9']].forEach((e,i)=>{
  mk('circle',{cx:705,cy:111+i*14.5,r:3,fill:e[1]},'legend-key',g);T(714,116+i*14.5,e[0],{size:13},'legend-label',g);});})();
volcano({name:'volcano-6hpi',xd:[0,10],xp:[999,1144],yd:[0,300],yp:[358.5,115],box:[913,1160,88,375],xt:v6XTicks,yt:v6YTicks,rot:-45,vl:[-1,1],hl:1.3,
 gray:v6Gray,blue:v6Blue,envGray:v6EnvGray,envBlue:v6EnvBlue,red:v6Red,black:v6Black,title:['HSV-1: 6 hpi vs Mock',913,78],xlab:'Log2 fold change',xlabY:417,ylabX:880,
 pos:{RASD1:[1069,98],IFIT2:[1137,98],ISG15:[1028,121],IFIT1:[1074,121],BCL2L11:[1126,131],IFIT3:[1041,145],IFIH1:[1085,162],ARC:[1135,182],ATF3:[1062,198],DLL1:[1105,216],HERC5:[1102,250],NEFH:[1025,307],LSMEM1:[1081,305],RNF225:[1076,331],TRIM72:[1130,340],BHLHE41:[947,344],CD79A:[991,368],C1orf162:[1053,368],MAFA:[1121,365]}});
volcano({name:'volcano-9hpi',xd:[0,15],xp:[1294,1454],yd:[0,300],yp:[365.5,116.6],box:[1213,1463,88,380],xt:v9XTicks,yt:v9YTicks,rot:-45,vl:[-1,1],hl:1.3,
 gray:v9Gray,blue:v9Blue,envGray:v9EnvGray,envBlue:v9EnvBlue,red:v9Red,black:v9Black,title:['HSV-1: 9 hpi vs Mock',1216,78],xlab:'Log2 fold change',xlabY:417,ylabX:1183,
 pos:{'MT-RNR1':[1315,98],IFIT1:[1378,98],IFIH1:[1327,122],IFIT2:[1377,123],BCL2L11:[1429,120],RRAD:[1351,145],DLL1:[1422,144],'PYCARD-AS1':[1418,167],ATF3:[1331,170],ARC:[1394,190],HERC5:[1374,216],NEFH:[1333,244],HBEGF:[1312,275],LSMEM1:[1371,285],TRIM72:[1434,288],TENT5C:[1263,298],MYH3:[1318,309],C1orf162:[1381,311],PRPH:[1441,316],MICA:[1264,321],DDN:[1362,337],RNF225:[1404,340],RGCC:[1262,344],PDZK1:[1314,343],FOSB:[1281,368],CD79A:[1333,368],ADM5:[1367,368],MAFA:[1419,367]}});
volcano({name:'volcano-16hpi',xd:[0,10],xp:[701.5,794],yd:[0,100],yp:[728.5,645],box:[615,860,450,740],xt:v16XTicks,yt:v16YTicks,rot:-45,vl:[-1,1],hl:1.3,
 gray:v16Gray,blue:v16Blue,envGray:v16EnvGray,envBlue:v16EnvBlue,red:v16Red,black:v16Black,title:['HSV-1: 16 hpi vs Mock',616,444],xlab:'Log2 fold change',xlabY:778,ylabX:583,
 pos:{'MT-RNR2':[732,463],'PYCARD-AS1':[815,463],RRAD:[681,485],ATF7IP2:[735,485],BCL2L11:[826,485],'MT-RNR1':[799,501],MX1:[746,508],IFIT2:[793,523],DLL1:[837,523],NPTX2:[752,546]}});

// ---------- VENN ----------
(function(){
 const g=mk('g',{},'venn-diagram');
 T(986,467,'HSV-1 infection: shared and',{size:19.5,weight:'bold',fill:BLUE},'venn-title',g);
 T(986,486,'timepoint-specific DE genes',{size:19.5,weight:'bold',fill:BLUE},'venn-title',g);
 T(986,500,'padj ≤ 0.05, |Log2 fold change| ≥ 1',{size:10.5},'venn-subtitle',g);
 const cs=[[0,'#0a2540'],[1000,'#0d3a5c'],[2000,'#0f5a86'],[3000,'#1178b0'],[4000,'#1aa6de'],[4831,'#1eaee2']];
 const d=mk('defs',{},'defs',g);
 const sh={e2:{cx:1090,cy:664,rx:128,ry:84,rot:50,col:'#20a0d8'},e6:{cx:1158,cy:624,rx:126,ry:56,rot:55,col:'#e8601c'},e9:{cx:1172,cy:624,rx:126,ry:56,rot:-55,col:'#15b05a'},e16:{cx:1240,cy:664,rx:128,ry:84,rot:-50,col:'#9a2b9a'}};
 const cp=mk('clipPath',{id:'c16'},'clip',d);
 mk('ellipse',{cx:sh.e16.cx,cy:sh.e16.cy,rx:sh.e16.rx,ry:sh.e16.ry,transform:'rotate('+sh.e16.rot+' '+sh.e16.cx+' '+sh.e16.cy+')'},'clip-shape',cp);
 const E=(k,fill,extra)=>{const s=sh[k];const a={cx:s.cx,cy:s.cy,rx:s.rx,ry:s.ry,transform:'rotate('+s.rot+' '+s.cx+' '+s.cy+')',fill:fill,stroke:'none'};
  if(extra)a['clip-path']=extra;return mk('ellipse',a,'venn-fill-'+k,g);};
 E('e16',lerpColor(cs,4831));
 E('e9',lerpColor(cs,1308));
 E('e9',lerpColor(cs,2737),'url(#c16)');
 E('e2',lerpColor(cs,0));
 E('e6',lerpColor(cs,271));
 Object.keys(sh).forEach(k=>{const s=sh[k];mk('ellipse',{cx:s.cx,cy:s.cy,rx:s.rx,ry:s.ry,transform:'rotate('+s.rot+' '+s.cx+' '+s.cy+')',fill:'none',stroke:s.col,'stroke-width':2.2},'venn-set-'+k,g);});
 const lp=[[1110,549],[1213,551],[1166,580],[1263,585],[1091,585],[1126,620],[1201,620],[1303,637],[1050,642],[1163,656],[1094,678],[1238,679],[1140,694],[1194,694],[1163,734]];
 vennCounts.forEach((c,i)=>{const p=lp[i];
  mk('rect',{x:p[0]-17,y:p[1]-18,width:34,height:35,rx:2,fill:'#ededed'},'venn-count-box',g);
  T(p[0]+12,p[1]-3,c,{size:12,anchor:'end'},'venn-count',g);
  T(p[0],p[1]+12,'('+vennPct[i]+')',{size:12,anchor:'middle'},'venn-percent',g);});
 [['2 hpi',1011,552,'#1f9fd8'],['6 hpi',1058,519,'#e8601c'],['9 hpi',1228,525,'#15b05a'],['16 hpi',1306,552,'#9a2b9a']].forEach(l=>T(l[1],l[2],l[0],{size:12,fill:l[3]},'venn-set-label',g));
 T(1347,603,'Count',{size:15,weight:'bold',fill:RED},'venn-legend-title',g);
 const lg=mk('linearGradient',{id:'vg',x1:0,y1:1,x2:0,y2:0},'gradient',d);
 cs.forEach(s=>mk('stop',{offset:s[0]/4831,'stop-color':s[1]},'grad-stop',lg));
 mk('rect',{x:1348,y:611,width:15,height:80,fill:'url(#vg)'},'venn-colorbar',g);
 const cy=lin(0,4000,689,623);
 vennTicks.forEach(t=>T(1368,cy(t)+3,String(t),{size:8},'venn-colorbar-tick',g));
})();

// ---------- PANEL E ----------
function tf(cfg){
 volcano({name:cfg.name,xd:cfg.xd,xp:cfg.xp,yd:cfg.yd,yp:cfg.yp,box:cfg.box,xt:cfg.xt,yt:cfg.yt,rot:-50,vl:[-1,1],hl:1.3,
  gray:cfg.gray,blue:[],red:cfg.red,black:[],bluelab:cfg.blue,title:[cfg.title,cfg.box[0]+3,826],xlab:'ULM Score',xlabY:1118,ylabX:cfg.box[0]-28,
  pos:cfg.pos,r:3.6,ls:13,redpt:'#e3122a'});
}
tf({name:'tf-2hpi',xd:[-5,0],xp:[554,633],yd:[0,15],yp:[1069,835.5],box:[490,703,832,1082],xt:[-5,0],yt:[0,5,10,15],gray:e2Gray,red:e2Red,blue:e2Blue,title:'TF activity: HSV-1 - 2 hpi',
 pos:{TEAD1:[520,841],GATA3:[519,858],SOX2:[578,868],FOXA1:[534,886],PBX3:[583,900],SPI1:[512,905],TAL1:[533,918],FOS:[567,918],GATA2:[547,935],CEBPA:[599,935],FOXP1:[560,953],MEIS2:[624,953],MITF:[526,970],RUNX1:[575,970],ZEB2:[530,988],ONECUT1:[590,988],PGR:[605,1005],RUNX2:[619,1023],HNF4A:[633,1040],E2F4:[683,1003]}});
(function(){const g=mk('g',{},'tf-legend');
 [['Activated',CY],['Repressed','#e3122a'],['Thresh. unmet','#c9c9c9']].forEach((e,i)=>{
  mk('circle',{cx:598,cy:842+i*15,r:3.5,fill:e[1]},'legend-key',g);T(608,847+i*15,e[0],{size:11},'legend-label',g);});})();
tf({name:'tf-6hpi',xd:[0,20],xp:[813,940],yd:[0,100],yp:[1070,832.5],box:[755,960,832,1082],xt:[0,10,20],yt:[0,25,50,75,100],gray:e6Gray,red:e6Red,blue:e6Blue,title:'TF activity: HSV-1 - 6 hpi',
 pos:{STAT2:[933,844],IRF9:[907,958],GATA3:[782,973],EPAS1:[833,971],IRF1:[892,988],TEAD1:[782,991],SMAD3:[837,989],SRF:[782,1009],FOSL2:[822,1009],E2F4:[861,1007],JUN:[771,1027],SOX2:[808,1027],TP73:[855,1027],IRF2:[894,1025],ETS1:[796,1044],PRDM1:[841,1044],FOS:[817,1061],CEBPG:[782,1073],CEBPA:[856,1074],FOXO3:[906,1074]}});
tf({name:'tf-9hpi',xd:[0,20],xp:[1060,1209],yd:[0,80],yp:[1070,840.6],box:[1003,1212,832,1082],xt:[0,10,20],yt:[0,20,40,60,80],gray:e9Gray,red:e9Red,blue:e9Blue,title:'TF activity: HSV-1 - 9 hpi',
 pos:{STAT2:[1186,844],IRF9:[1168,952],IRF1:[1154,969],TEAD1:[1028,962],SRF:[1070,962],EPAS1:[1054,979],TBP:[1108,969],IRF2:[1139,987],JUN:[1026,996],JUNB:[1095,987],KLF4:[1122,1005],TFAP2A:[1072,1005],SMAD3:[1031,1013],NRF1:[1106,1022],MAZ:[1062,1027],GATA3:[1028,1031],HSF1:[1090,1040],ETS1:[1038,1047],IRF3:[1069,1056],RUNX3:[1061,1073]}});
tf({name:'tf-16hpi',xd:[0,10],xp:[1323,1421],yd:[0,40],yp:[1069,871],box:[1255,1463,832,1082],xt:[-5,0,5,10],yt:[0,10,20,30,40],gray:e16Gray,red:e16Red,blue:e16Blue,title:'TF activity: HSV-1 - 16 hp',
 pos:{STAT2:[1439,844],IRF1:[1423,945],IRF2:[1408,963],SP1:[1297,963],SMAD3:[1283,981],SRF:[1337,981],IRF9:[1394,981],TBP:[1283,998],TFAP2A:[1326,998],ARID2:[1379,998],JUN:[1271,1016],EPAS1:[1304,1016],FOXA1:[1364,1016],PAX6:[1292,1034],FOXP1:[1351,1034],ZNF384:[1348,1051],HIF1A:[1307,1055],HMBOX1:[1284,1072],RUNX3:[1337,1072],DUX4:[1388,1072]}});

// ---------- PANEL F ----------
function bars(cfg){
 const g=mk('g',{},cfg.name);
 const x=lin(0,1,cfg.x0,cfg.x0+cfg.u);
 const st=[[cfg.lpd[0],'#0a2036'],[(cfg.lpd[0]+cfg.lpd[1])/2,'#0f4f7c'],[cfg.lpd[1],'#29b2ea']];
 T(cfg.tx,cfg.ty,cfg.title,{size:18.3,weight:'bold',fill:BLUE},'pathway-title',g);
 const bot=cfg.top+cfg.step*cfg.labels.length;
 cfg.ticks.forEach(t=>{mk('line',{x1:x(t),x2:x(t),y1:cfg.top,y2:bot,stroke:'#ececec'},'grid-x',g);
  T(x(t),bot+12,String(t).replace('-','−'),{size:9,anchor:'middle',fill:'#333'},'x-tick',g);});
 cfg.labels.forEach((l,i)=>{
  const cy=cfg.top+cfg.step*(i+0.5);
  mk('line',{x1:cfg.labR+3,x2:cfg.right,y1:cy,y2:cy,stroke:'#ececec'},'grid-y',g);
  const v=cfg.nes[i];
  mk('rect',{x:Math.min(x(0),x(v)),y:cy-cfg.bh/2,width:Math.abs(x(v)-x(0)),height:cfg.bh,fill:lerpColor(st,cfg.lp[i])},'bar-'+i,g);
  const parts=l.split('|');
  parts.forEach((p,k)=>T(cfg.labR,cy+3+(k-(parts.length-1)/2)*7,p,{size:7.2,anchor:'end',fill:'#444'},'pathway-label',g));
 });
 mk('line',{x1:x(0),x2:x(0),y1:cfg.top,y2:bot,stroke:'#000','stroke-dasharray':'3,2'},'zero-line',g);
 T((x(cfg.ticks[0])+x(cfg.ticks[cfg.ticks.length-1]))/2,bot+23,'Normalized Enrichment Score (NES)',{size:9,anchor:'middle'},'x-axis-title',g);
 const d=mk('defs',{},'defs',g);
 const lg=mk('linearGradient',{id:'g'+cfg.name,x1:0,y1:1,x2:0,y2:0},'gradient',d);
 st.forEach(s=>mk('stop',{offset:(s[0]-cfg.lpd[0])/(cfg.lpd[1]-cfg.lpd[0]),'stop-color':s[1]},'grad-stop',lg));
 T(cfg.cbx,cfg.cby-10,'-log',{size:9},'legend-title',g);
 T(cfg.cbx+17,cfg.cby-7,'10',{size:6},'legend-title-sub',g);
 T(cfg.cbx+25,cfg.cby-10,'(padj)',{size:9},'legend-title',g);
 mk('rect',{x:cfg.cbx,y:cfg.cby,width:12,height:cfg.cbh,fill:'url(#g'+cfg.name+')'},'colorbar',g);
 const cyS=lin(cfg.lpd[0],cfg.lpd[1],cfg.cby+cfg.cbh,cfg.cby);
 cfg.cbt.forEach(t=>T(cfg.cbx+17,cyS(t)+3,String(t),{size:7.5},'colorbar-tick',g));
}
bars({name:'pathways-2hpi',title:'Human HSV-1 infection Pathways — 2 hpi (padj ≤ 0.05)',tx:462,ty:1192,x0:745,u:55,top:1200,step:13.7,bh:12,labR:636,right:880,ticks:[-1,0,1,2],labels:f2Labels,nes:f2NES,lp:f2LP,lpd:[1.5,7],cbx:895,cby:1240,cbh:72,cbt:[6,5,4,3,2]});
bars({name:'pathways-6hpi',title:'Human HSV-1 infection Pathways — 6 hpi (padj ≤ 0.05)',tx:970,ty:1192,x0:1250,u:55,top:1201,step:19.1,bh:17,labR:1124,right:1388,ticks:[-2,-1,0,1,2],labels:f6Labels,nes:f6NES,lp:f6LP,lpd:[3.6,7.6],cbx:1402,cby:1240,cbh:72,cbt:[7,6,5,4]});
bars({name:'pathways-9hpi',title:'Human HSV-1 infection Pathways — 9 hpi (padj ≤ 0.05)',tx:462,ty:1386,x0:777,u:44.5,top:1394,step:15.1,bh:13,labR:673,right:880,ticks:[-2,-1,0,1,2],labels:f9Labels,nes:f9NES,lp:f9LP,lpd:[1.5,7.5],cbx:895,cby:1433,cbh:72,cbt:[7,6,5,4,3,2]});
bars({name:'pathways-16hpi',title:'Human HSV-1 infection Pathways — 16 hpi (padj ≤ 0.05)',tx:966,ty:1386,x0:1307,u:36.7,top:1394,step:13.7,bh:12,labR:1176,right:1392,ticks:[-3,-2,-1,0,1],labels:f16Labels,nes:f16NES,lp:f16LP,lpd:[1.5,7.5],cbx:1402,cby:1433,cbh:72,cbt:[7,6,5,4,3,2]});
</script>
</body></html>
